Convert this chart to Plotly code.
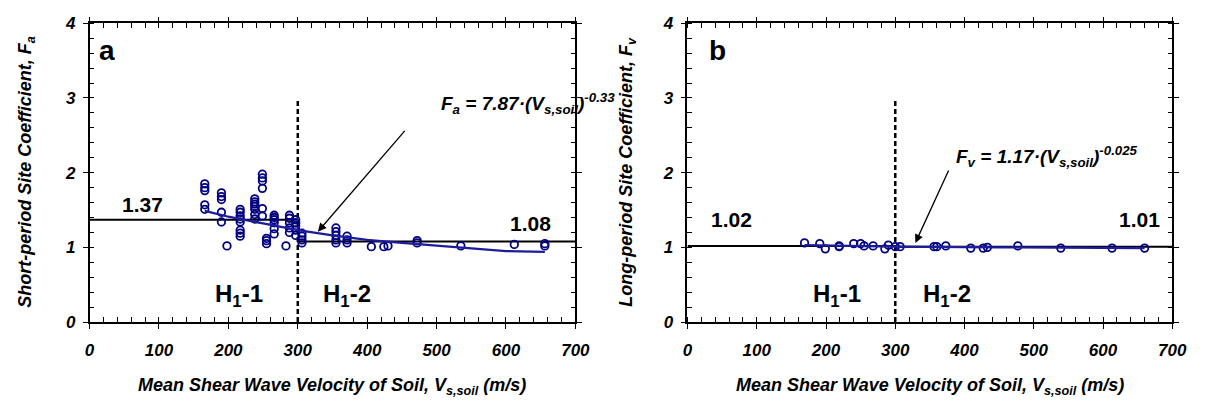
import plotly.graph_objects as go

# ---------------- data ----------------
# Panel a: short-period site coefficient Fa
fa_vs = [166, 166, 166, 166, 166,
         190, 190, 190, 190, 190,
         198,
         217, 217, 217, 217, 217, 217, 217, 217,
         238, 238, 238, 238, 238, 238, 238,
         249, 249, 249, 249, 249, 249,
         255, 255, 255,
         266, 266, 266, 266, 266, 266,
         283,
         288, 288, 288, 288, 288,
         297, 297, 297, 297, 297,
         306, 306, 306, 306,
         355, 355, 355, 355, 355,
         371, 371, 371,
         406, 424, 430, 472, 472, 535, 612, 656, 656]
fa_val = [1.85, 1.80, 1.76, 1.57, 1.51,
          1.73, 1.68, 1.64, 1.47, 1.34,
          1.02,
          1.51, 1.47, 1.42, 1.38, 1.34, 1.23, 1.19, 1.15,
          1.65, 1.61, 1.58, 1.55, 1.51, 1.44, 1.38,
          1.98, 1.93, 1.89, 1.79, 1.52, 1.42,
          1.12, 1.09, 1.05,
          1.43, 1.40, 1.37, 1.33, 1.25, 1.18,
          1.02,
          1.43, 1.39, 1.33, 1.26, 1.20,
          1.37, 1.33, 1.29, 1.23, 1.16,
          1.19, 1.15, 1.10, 1.06,
          1.26, 1.21, 1.16, 1.10, 1.06,
          1.15, 1.10, 1.06,
          1.01, 1.01, 1.02, 1.09, 1.06, 1.02, 1.04, 1.02, 1.05]
fa_fit_vs = [166, 200, 250, 300, 350, 400, 450, 500, 550, 600, 656]
fa_fit = [1.49, 1.41, 1.32, 1.23, 1.16, 1.10, 1.06, 1.02, 0.98, 0.95, 0.94]

# Panel b: long-period site coefficient Fv
fv_vs = [169, 191, 199, 219, 219, 240, 250, 255, 268, 285, 290, 300, 307,
         356, 360, 373, 409, 427, 433, 477, 539, 613, 660]
fv_val = [1.06, 1.05, 0.98, 1.01, 1.02, 1.05, 1.05, 1.02, 1.02, 0.98, 1.03, 1.01, 1.01,
          1.01, 1.01, 1.02, 0.99, 0.99, 1.00, 1.02, 0.99, 0.99, 0.99]
fv_fit_vs = [169, 300, 450, 660]
fv_fit = [1.03, 1.01, 1.00, 0.99]

# class boundary and class means
boundary = 300
vs_min, vs_max = 0, 700
fa_means = [1.37, 1.08]
fv_means = [1.02, 1.01]
dash_top = 3

NAVY = "#000080"
FIT = "#1c1c9c"
FONT = "Liberation Sans"

fig = go.Figure()

def add_panel(xa, ya, vs, val, fvs, fit, means):
    fig.add_trace(go.Scatter(x=[vs_min, boundary], y=[means[0], means[0]], mode="lines",
                             line=dict(color="black", width=2), xaxis=xa, yaxis=ya,
                             showlegend=False, hoverinfo="skip"))
    fig.add_trace(go.Scatter(x=[boundary, vs_max], y=[means[1], means[1]], mode="lines",
                             line=dict(color="black", width=2), xaxis=xa, yaxis=ya,
                             showlegend=False, hoverinfo="skip"))
    fig.add_trace(go.Scatter(x=[boundary, boundary], y=[0, dash_top], mode="lines",
                             line=dict(color="black", width=2.5, dash="5px,3px"),
                             xaxis=xa, yaxis=ya, showlegend=False, hoverinfo="skip"))
    fig.add_trace(go.Scatter(x=vs, y=val, mode="markers",
                             marker=dict(symbol="circle-open", size=7.5, color=NAVY,
                                         line=dict(width=1.8, color=NAVY)),
                             xaxis=xa, yaxis=ya, showlegend=False))
    fig.add_trace(go.Scatter(x=fvs, y=fit, mode="lines",
                             line=dict(color=FIT, width=2.3), xaxis=xa, yaxis=ya,
                             showlegend=False))

add_panel("x", "y", fa_vs, fa_val, fa_fit_vs, fa_fit, fa_means)
add_panel("x2", "y2", fv_vs, fv_val, fv_fit_vs, fv_fit, fv_means)

W, H = 1206, 417
xa_dom = [86 / W, 580 / W]
xb_dom = [694 / W, 1187 / W]
y_dom = [(H - 328) / H, (H - 15) / H]

tickfont = dict(family=FONT, size=17, color="black", weight="bold", style="italic")

def xaxis(dom, anchor):
    return dict(domain=dom, anchor=anchor, range=[vs_min, vs_max], tickvals=list(range(0, 701, 100)),
                showgrid=False, zeroline=False, showline=True, linecolor="black", linewidth=1.5,
                mirror="allticks", ticks="outside", ticklen=5, tickwidth=1.2, tickcolor="black",
                minor=dict(dtick=20, ticks="inside", ticklen=5, tickwidth=1, tickcolor="black"),
                tickfont=tickfont, ticklabelstandoff=7)

def yaxis(anchor):
    return dict(domain=y_dom, anchor=anchor, range=[0, 4], tickvals=[0, 1, 2, 3, 4],
                showgrid=False, zeroline=False, showline=True, linecolor="black", linewidth=1.5,
                mirror="allticks", ticks="outside", ticklen=5, tickwidth=1.2, tickcolor="black",
                minor=dict(dtick=0.2, ticks="inside", ticklen=5, tickwidth=1, tickcolor="black"),
                tickfont=tickfont, ticklabelstandoff=4)

fig.update_layout(
    width=W, height=H, autosize=False,
    margin=dict(l=0, r=0, t=0, b=0),
    paper_bgcolor="white", plot_bgcolor="white",
    xaxis=xaxis(xa_dom, "y"), yaxis=yaxis("x"),
    xaxis2=xaxis(xb_dom, "y2"), yaxis2=yaxis("x2"),
    showlegend=False,
)

bi = dict(family=FONT, color="black", weight="bold", style="italic")
bold = dict(family=FONT, color="black", weight="bold")

ann = []
def txt(text, x, y, xref, yref, font, size, xanchor="center", **kw):
    d = dict(text=text, x=x, y=y, xref=xref, yref=yref, showarrow=False,
             xanchor=xanchor, yanchor="middle", font=dict(size=size, **font))
    d.update(kw)
    ann.append(d)

# panel labels
txt("a", 25, 3.64, "x", "y", bold, 28)
txt("b", 44, 3.64, "x2", "y2", bold, 28)
# means
txt("1.37", 76, 1.57, "x", "y", bold, 21)
txt("1.08", 635, 1.32, "x", "y", bold, 21)
txt("1.02", 63, 1.37, "x2", "y2", bold, 21)
txt("1.01", 652, 1.37, "x2", "y2", bold, 21)
# site classes
for xr, yr, p1, p2 in [("x", "y", 215, 371), ("x2", "y2", 216, 374)]:
    txt("H<sub>1</sub>-1", p1, 0.36, xr, yr, bold, 24)
    txt("H<sub>1</sub>-2", p2, 0.36, xr, yr, bold, 24)
# equations
txt("F<sub>a</sub> = 7.87·(V<sub>s,soil</sub>)<sup>-0.33</sup>", 503, 2.92, "x", "y", bi, 19, xanchor="left")
txt("F<sub>v</sub> = 1.17·(V<sub>s,soil</sub>)<sup>-0.025</sup>", 385, 2.22, "x2", "y2", bi, 19, xanchor="left")
# arrows
for xr, yr, hx, hy, tx, ty in [("x", "y", 329, 1.21, 456, 2.58), ("x2", "y2", 329, 1.06, 378, 2.05)]:
    ann.append(dict(x=hx, y=hy, ax=tx, ay=ty, xref=xr, yref=yr, axref=xr, ayref=yr,
                    text="", showarrow=True, arrowhead=2, arrowsize=1.3, arrowwidth=1.3,
                    arrowcolor="black"))
# axis titles
xt = "Mean Shear Wave Velocity of Soil, V<sub>s,soil</sub> (m/s)"
txt(xt, (xa_dom[0] + xa_dom[1]) / 2, (H - 395) / H, "paper", "paper", bi, 18)
txt(xt, (xb_dom[0] + xb_dom[1]) / 2, (H - 395) / H, "paper", "paper", bi, 18)
ymid = (H - 171) / H
txt("Short-period Site Coefficient, F<sub>a</sub>", 22 / W, ymid, "paper", "paper", bi, 18, textangle=-90)
txt("Long-period Site Coefficient, F<sub>v</sub>", 633 / W, ymid, "paper", "paper", bi, 18, textangle=-90)

fig.update_layout(annotations=ann)
fig.write_html("out.html")
